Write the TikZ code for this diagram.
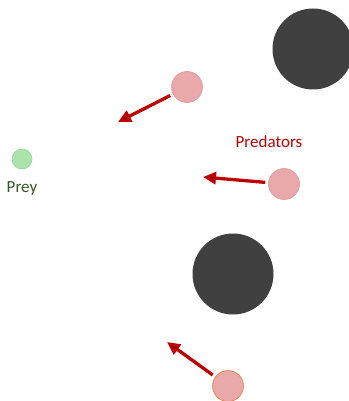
\documentclass[tikz,border=0pt]{standalone}
\usepackage{fontspec}
\setmainfont{Carlito}
\usetikzlibrary{arrows.meta}

\definecolor{preyfill}{RGB}{170,228,170}
\definecolor{preyline}{RGB}{150,212,150}
\definecolor{preytext}{RGB}{55,86,35}
\definecolor{predfill}{RGB}{233,168,170}
\definecolor{predline}{RGB}{222,152,154}
\definecolor{predorange}{RGB}{237,125,49}
\definecolor{arrowred}{RGB}{192,0,0}
\definecolor{rock}{RGB}{64,64,64}

\begin{document}
\begin{tikzpicture}[
                        x=1pt,
                        y=-1pt,
                        >={Triangle[length=13pt,width=12pt]},
                        font=\fontsize{17}{20}\selectfont
                    ]
                    \tikzstyle{prey}=[circle,fill=preyfill,draw=preyline,line width=0.6pt,minimum size=20pt,inner sep=0pt]
                    \tikzstyle{predator}=[circle,fill=predfill,draw=predline,line width=0.6pt,minimum size=31pt,inner sep=0pt]
                    \tikzstyle{obstacle}=[circle,fill=rock,minimum size=81pt,inner sep=0pt]
                    \tikzstyle{move}=[->,draw=arrowred,line width=3.3pt,shorten <=3pt]

                    \useasboundingbox (0,0) rectangle (348,401);

                    \node[obstacle] (O1) at (313,49)  {} ;
                    \node[obstacle] (O2) at (233,274) {} ;

                    \node[prey]     (A) at (22,159)   {} ;
                    \node[text=preytext] (Alabel) at (22,188) {Prey} ;

                    \node[predator] (B) at (187,87)   {} ;
                    \node[predator] (C) at (284,184)  {} ;
                    \node[predator,draw=predorange] (D) at (228,386) {} ;
                    \node[text=arrowred] (Clabel) at (269,142) {Predators} ;

                    \coordinate (B') at (118,122) ;
                    \coordinate (C') at (203,177) ;
                    \coordinate (D') at (167,342) ;

                    \path[move]
                    (B) edge (B')
                    (C) edge (C')
                    (D) edge (D') ;

                \end{tikzpicture}
\end{document}
